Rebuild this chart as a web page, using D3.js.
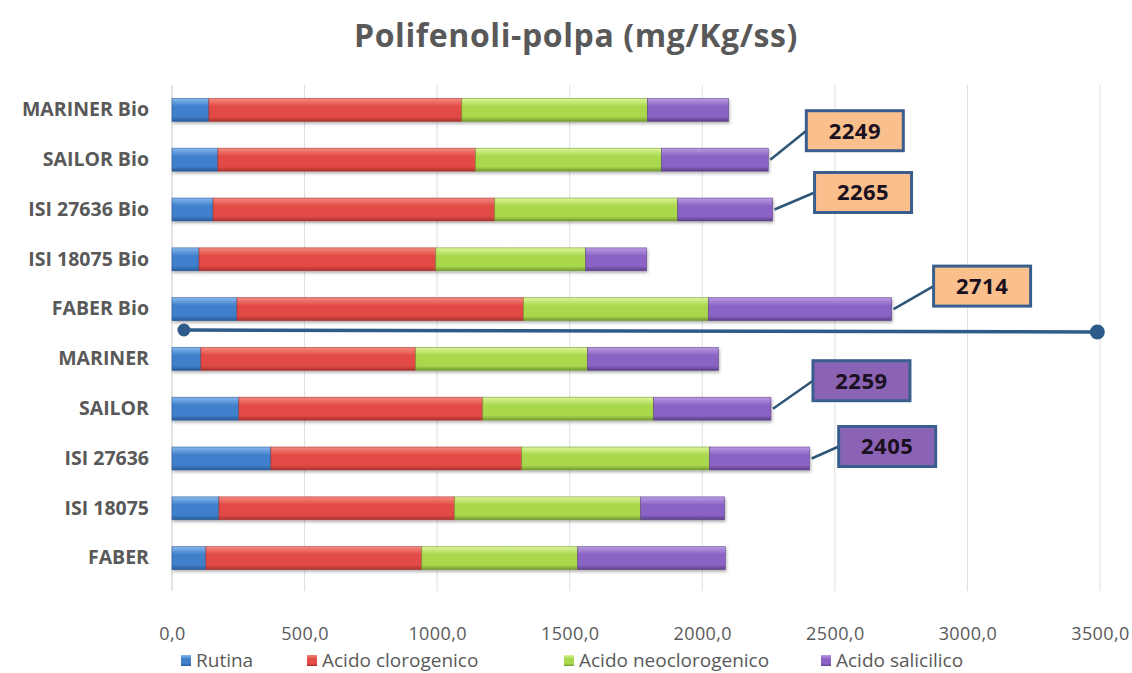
<!DOCTYPE html>
<html>
<head>
<meta charset="utf-8">
<script src="https://cdn.jsdelivr.net/npm/d3@7"></script>
<style>
  html, body { margin: 0; padding: 0; background: #ffffff; }
  svg { display: block; }
  text { font-family: "Open Sans", Lato, "Liberation Sans", sans-serif; }
</style>
</head>
<body>
<svg id="chart" width="1132" height="673"></svg>
<script>
// Varieties, top to bottom
const categories = ["MARINER Bio", "SAILOR Bio", "ISI 27636 Bio", "ISI 18075 Bio", "FABER Bio",
                    "MARINER", "SAILOR", "ISI 27636", "ISI 18075", "FABER"];

// Polyphenol content in pulp (mg/Kg/ss), one value per variety
const rutina         = [139, 173, 155, 102, 245, 109, 252, 373, 177, 128];
const clorogenico    = [954, 972, 1062, 893, 1081, 810, 920, 946, 889, 814];
const neoclorogenico = [700, 701, 690, 565, 697, 648, 644, 708, 701, 588];
const salicilico     = [306, 403, 358, 230, 691, 494, 443, 378, 317, 557];

const seriesNames = ["Rutina", "Acido clorogenico", "Acido neoclorogenico", "Acido salicilico"];

// Totals called out with labels
const calloutCategories = ["SAILOR Bio", "ISI 27636 Bio", "FABER Bio", "SAILOR", "ISI 27636"];
const calloutValues     = [2249, 2265, 2714, 2259, 2405];

const xTicks = [0, 500, 1000, 1500, 2000, 2500, 3000, 3500];
const xDomain = [0, 3500];

// Divider between organic and conventional groups (value extent)
const dividerExtent = [45, 3490];

const title = "Polifenoli-polpa (mg/Kg/ss)";

// ---------- layout ----------
const svg = d3.select("#chart");
const plot = { left: 172, right: 1100, top: 85, bottom: 583 };

const x = d3.scaleLinear().domain(xDomain).range([plot.left, plot.right]);
const y = d3.scaleBand().domain(categories).range([plot.top, plot.bottom]).paddingInner(0.54).paddingOuter(0.27);

const palette = [
  { top: "#86b8ee", mid: "#3f7fcb", bot: "#285a98" },
  { top: "#f58a80", mid: "#e24b45", bot: "#a8322e" },
  { top: "#dcf59a", mid: "#a9d84d", bot: "#74982f" },
  { top: "#b99be2", mid: "#8b63c4", bot: "#5b3f86" }
];

const defs = svg.append("defs");
palette.forEach((c, i) => {
  const g = defs.append("linearGradient").attr("id", "grad" + i)
    .attr("x1", 0).attr("y1", 0).attr("x2", 0).attr("y2", 1);
  g.append("stop").attr("offset", "0%").attr("stop-color", c.top);
  g.append("stop").attr("offset", "35%").attr("stop-color", c.mid);
  g.append("stop").attr("offset", "80%").attr("stop-color", c.mid);
  g.append("stop").attr("offset", "100%").attr("stop-color", c.bot);
});
const shadow = defs.append("filter").attr("id", "shadow").attr("x", "-5%").attr("y", "-30%").attr("width", "110%").attr("height", "180%");
shadow.append("feDropShadow").attr("dx", 1).attr("dy", 2).attr("stdDeviation", 1.5).attr("flood-color", "#000").attr("flood-opacity", 0.3);

// Title
svg.append("text")
  .attr("x", 576).attr("y", 47)
  .attr("text-anchor", "middle")
  .attr("font-size", 32).attr("font-weight", 700)
  .attr("letter-spacing", 0.6)
  .attr("fill", "#595959")
  .text(title);

// Vertical gridlines
svg.append("g").selectAll("line").data(xTicks).join("line")
  .attr("x1", d => x(d)).attr("x2", d => x(d))
  .attr("y1", plot.top).attr("y2", plot.bottom + 8)
  .attr("stroke", d => d === 0 ? "#c8c8c8" : "#dedede").attr("stroke-width", 1);

// X axis tick labels
const fmt = d => d3.format(".1f")(d).replace(".", ",");
const xAxis = d3.axisBottom(x).tickValues(xTicks).tickFormat(fmt).tickSize(0).tickPadding(0);
const xg = svg.append("g").attr("transform", `translate(0, ${plot.bottom + 51})`).call(xAxis);
xg.select(".domain").remove();
xg.selectAll("text").attr("font-size", 18).attr("letter-spacing", 0.4).attr("fill", "#595959")
  .attr("font-family", "'Open Sans', Lato, sans-serif").attr("dy", "0.35em");

// Y axis category labels
const yAxis = d3.axisLeft(y).tickSize(0).tickPadding(23);
const yg = svg.append("g").attr("transform", `translate(${plot.left}, 0)`).call(yAxis);
yg.select(".domain").remove();
yg.selectAll("text").attr("font-size", 19.5).attr("font-weight", 700).attr("fill", "#595959")
  .attr("font-family", "'Open Sans', Lato, sans-serif");

// Stacked bars
const rows = categories.map((c, i) => ({
  cat: c, Rutina: rutina[i], "Acido clorogenico": clorogenico[i],
  "Acido neoclorogenico": neoclorogenico[i], "Acido salicilico": salicilico[i]
}));
const stack = d3.stack().keys(seriesNames)(rows);

const barG = svg.append("g").attr("filter", "url(#shadow)");
stack.forEach((layer, si) => {
  barG.append("g").selectAll("rect").data(layer).join("rect")
    .attr("x", d => x(d[0]))
    .attr("y", d => y(d.data.cat))
    .attr("width", d => x(d[1]) - x(d[0]))
    .attr("height", y.bandwidth())
    .attr("fill", `url(#grad${si})`)
    .attr("stroke", palette[si].bot).attr("stroke-width", 0.8).attr("stroke-opacity", 0.7);
});

// Divider between the two groups
const divY = y(categories[4]) + y.bandwidth() + (y.step() - y.bandwidth()) / 2 - 3;
const divColor = "#2d5b8a";
svg.append("line")
  .attr("x1", x(dividerExtent[0])).attr("y1", divY - 1)
  .attr("x2", x(dividerExtent[1])).attr("y2", divY + 1)
  .attr("stroke", divColor).attr("stroke-width", 3.5);
svg.append("g").selectAll("circle").data(dividerExtent).join("circle")
  .attr("cx", d => x(d)).attr("cy", (d, i) => divY - 1 + i * 2)
  .attr("r", (d, i) => i === 0 ? 6.5 : 7.5)
  .attr("fill", divColor);

// Callout labels for totals
const calloutLayout = [
  { dx: 38, dy: -29, fill: "#f9bf8c" },
  { dx: 42, dy: -17, fill: "#f9bf8c" },
  { dx: 42, dy: -23, fill: "#f9bf8c" },
  { dx: 42, dy: -28, fill: "#8a63b4" },
  { dx: 29, dy: -12, fill: "#8a63b4" }
];
const boxW = 97, boxH = 40;
const cg = svg.append("g");
calloutCategories.forEach((c, i) => {
  const v = calloutValues[i];
  const L = calloutLayout[i];
  const x0 = x(v) + 2;
  const y0 = y(c) + y.bandwidth() / 2;
  const bx = x(v) + L.dx;
  const by = y0 + L.dy;
  cg.append("line")
    .attr("x1", x0).attr("y1", y0).attr("x2", bx).attr("y2", by)
    .attr("stroke", "#2f5577").attr("stroke-width", 2.5);
  cg.append("rect")
    .attr("x", bx).attr("y", by - boxH / 2).attr("width", boxW).attr("height", boxH)
    .attr("fill", L.fill).attr("stroke", "#3a5f8e").attr("stroke-width", 3);
  cg.append("text")
    .attr("x", bx + boxW / 2).attr("y", by).attr("dy", "0.36em")
    .attr("text-anchor", "middle").attr("font-size", 22).attr("font-weight", 700)
    .attr("letter-spacing", 0.5)
    .attr("fill", "#1a1020")
    .text(v);
});

// Legend
const legendX = [181, 307, 564, 821];
const lg = svg.append("g");
seriesNames.forEach((s, i) => {
  const g = lg.append("g").attr("transform", `translate(${legendX[i]}, 660)`);
  g.append("rect").attr("x", 0).attr("y", -5).attr("width", 10).attr("height", 11)
    .attr("fill", `url(#grad${i})`);
  g.append("text").attr("x", 15).attr("y", 0).attr("dy", "0.35em")
    .attr("font-size", 19).attr("fill", "#595959").text(s);
});
</script>
</body>
</html>
